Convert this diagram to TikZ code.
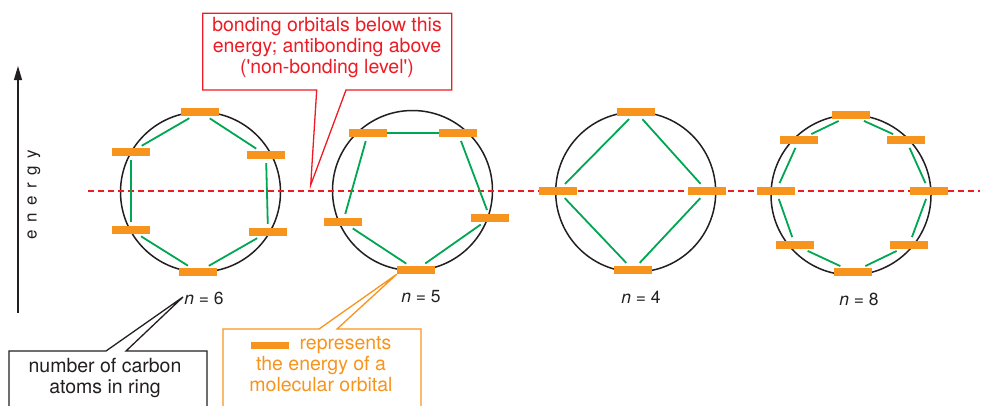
\documentclass[tikz,border=0pt]{standalone}
\usepackage{fontspec}
\setmainfont{TeX Gyre Heros}[Ligatures=TeXOff]
\usetikzlibrary{arrows.meta}
\definecolor{orgc}{HTML}{F7941D}
\definecolor{grn}{HTML}{00A651}
\definecolor{redc}{HTML}{ED1C24}
\definecolor{ink}{HTML}{231F20}
\pgfdeclarelayer{back}
\pgfsetlayers{back,main}
\begin{document}
\begin{tikzpicture}[x=1pt,y=-1pt,
  mo/.style={rectangle,fill=orgc,minimum width=38pt,minimum height=8pt,inner sep=0pt},
  ring/.style={circle,draw=ink,line width=1.5pt,minimum size=160pt,inner sep=0pt},
  bond/.style={draw=grn,line width=1.8pt,shorten >=4pt,shorten <=4pt},
  nlab/.style={font=\fontsize{17.5}{20}\selectfont,text=ink,anchor=base,inner sep=0pt},
  ctext/.style={font=\fontsize{19.5}{21}\selectfont,align=center,inner sep=0pt},
  callout/.style={line width=1.3pt,line join=miter}
]
\useasboundingbox (0,0) rectangle (984,405);
\clip (0,0) rectangle (984,405);

% rings and dashed level (background)
\begin{pgfonlayer}{back}
\node[ring] (r6) at (200.5,192) {};
\node[ring] (r5) at (412.5,190.5) {};
\node[ring] (r4) at (635.7,192) {};
\node[ring] (r8) at (851,195) {};
\coordinate (dl) at (88,191);
\coordinate (dr) at (980,191);
\draw[redc,line width=2.2pt,dash pattern=on 6pt off 4pt] (dl) -- (dr);
\end{pgfonlayer}

% n = 6
\node[mo] (a1) at (200,112) {};
\node[mo] (a2) at (266,155) {};
\node[mo] (a3) at (268,232) {};
\node[mo] (a4) at (198,272) {};
\node[mo] (a5) at (131,230) {};
\node[mo] (a6) at (131,152) {};
\draw[bond] (a1) -- (a2);
\draw[bond] (a2) -- (a3);
\draw[bond] (a3) -- (a4);
\draw[bond] (a4) -- (a5);
\draw[bond] (a5) -- (a6);
\draw[bond] (a6) -- (a1);

% n = 5
\node[mo] (b1) at (368,133) {};
\node[mo] (b2) at (458,133) {};
\node[mo] (b3) at (490,218) {};
\node[mo] (b4) at (416,270) {};
\node[mo] (b5) at (343,222) {};
\draw[bond,shorten >=0pt,shorten <=0pt] (b1) -- (b2);
\draw[bond] (b2) -- (b3);
\draw[bond] (b3) -- (b4);
\draw[bond] (b4) -- (b5);
\draw[bond] (b5) -- (b1);

% n = 4
\node[mo] (c1) at (636,112) {};
\node[mo] (c2) at (707,191) {};
\node[mo] (c3) at (633,270) {};
\node[mo] (c4) at (558,191) {};
\draw[bond] (c1) -- (c2);
\draw[bond] (c2) -- (c3);
\draw[bond] (c3) -- (c4);
\draw[bond] (c4) -- (c1);

% n = 8
\node[mo] (d1) at (851,115) {};
\node[mo] (d2) at (906,140) {};
\node[mo] (d3) at (929,191) {};
\node[mo] (d4) at (909,245) {};
\node[mo] (d5) at (853,272) {};
\node[mo] (d6) at (795,245) {};
\node[mo] (d7) at (776,191) {};
\node[mo] (d8) at (799,140) {};
\draw[bond] (d1) -- (d2);
\draw[bond] (d2) -- (d3);
\draw[bond] (d3) -- (d4);
\draw[bond] (d4) -- (d5);
\draw[bond] (d5) -- (d6);
\draw[bond] (d6) -- (d7);
\draw[bond] (d7) -- (d8);
\draw[bond] (d8) -- (d1);

% labels
\node[nlab] (l6) at (204,304) {\textit{n} = 6};
\node[nlab] (l5) at (421,302) {\textit{n} = 5};
\node[nlab] (l4) at (641,303) {\textit{n} = 4};
\node[nlab] (l8) at (859,305) {\textit{n} = 8};

% energy axis
\coordinate (ebot) at (18,313);
\coordinate (etop) at (18,66);
\draw[ink,line width=1.2pt,-{Triangle[length=14pt,width=8pt]}] (ebot) -- (etop);
\node[rotate=90,font=\fontsize{17}{20}\selectfont,text=ink,inner sep=0pt] (en) at (34,195)
  {e\hspace{7.6pt}n\hspace{7.6pt}e\hspace{7.6pt}r\hspace{7.6pt}g\hspace{7.6pt}y};

% red callout
\coordinate (rtip) at (310.7,185);
\draw[callout,draw=redc,fill=white] (202.7,90) -- (202.7,13.3) -- (451.7,13.3) -- (451.7,90) -- (346,90) -- (rtip) -- (316.7,90) -- cycle;
\node[ctext,text=redc] (rtxt) at (327,47.5)
  {bonding orbitals below this\\energy; antibonding above\\('non-bonding level')};

% black callout
\coordinate (btip) at (183,297);
\draw[callout,draw=ink] (9,410) -- (9,351) -- (106,351) -- (btip) -- (126,351) -- (207,351) -- (207,410);
\node[ctext,text=ink] (btxt) at (105,377.7) {number of carbon\\atoms in ring};

% orange callout
\draw[callout,draw=orgc] (223,410) -- (223,329) -- (319,329) -- (b4.south west) -- (337,329) -- (421,329) -- (421,410);
\node[ctext,text=orgc] (otxt) at (321,364.5)
  {\rule[1pt]{38pt}{7pt}\hspace{11pt}represents\\the energy of a\\molecular orbital};
\end{tikzpicture}
\end{document}
